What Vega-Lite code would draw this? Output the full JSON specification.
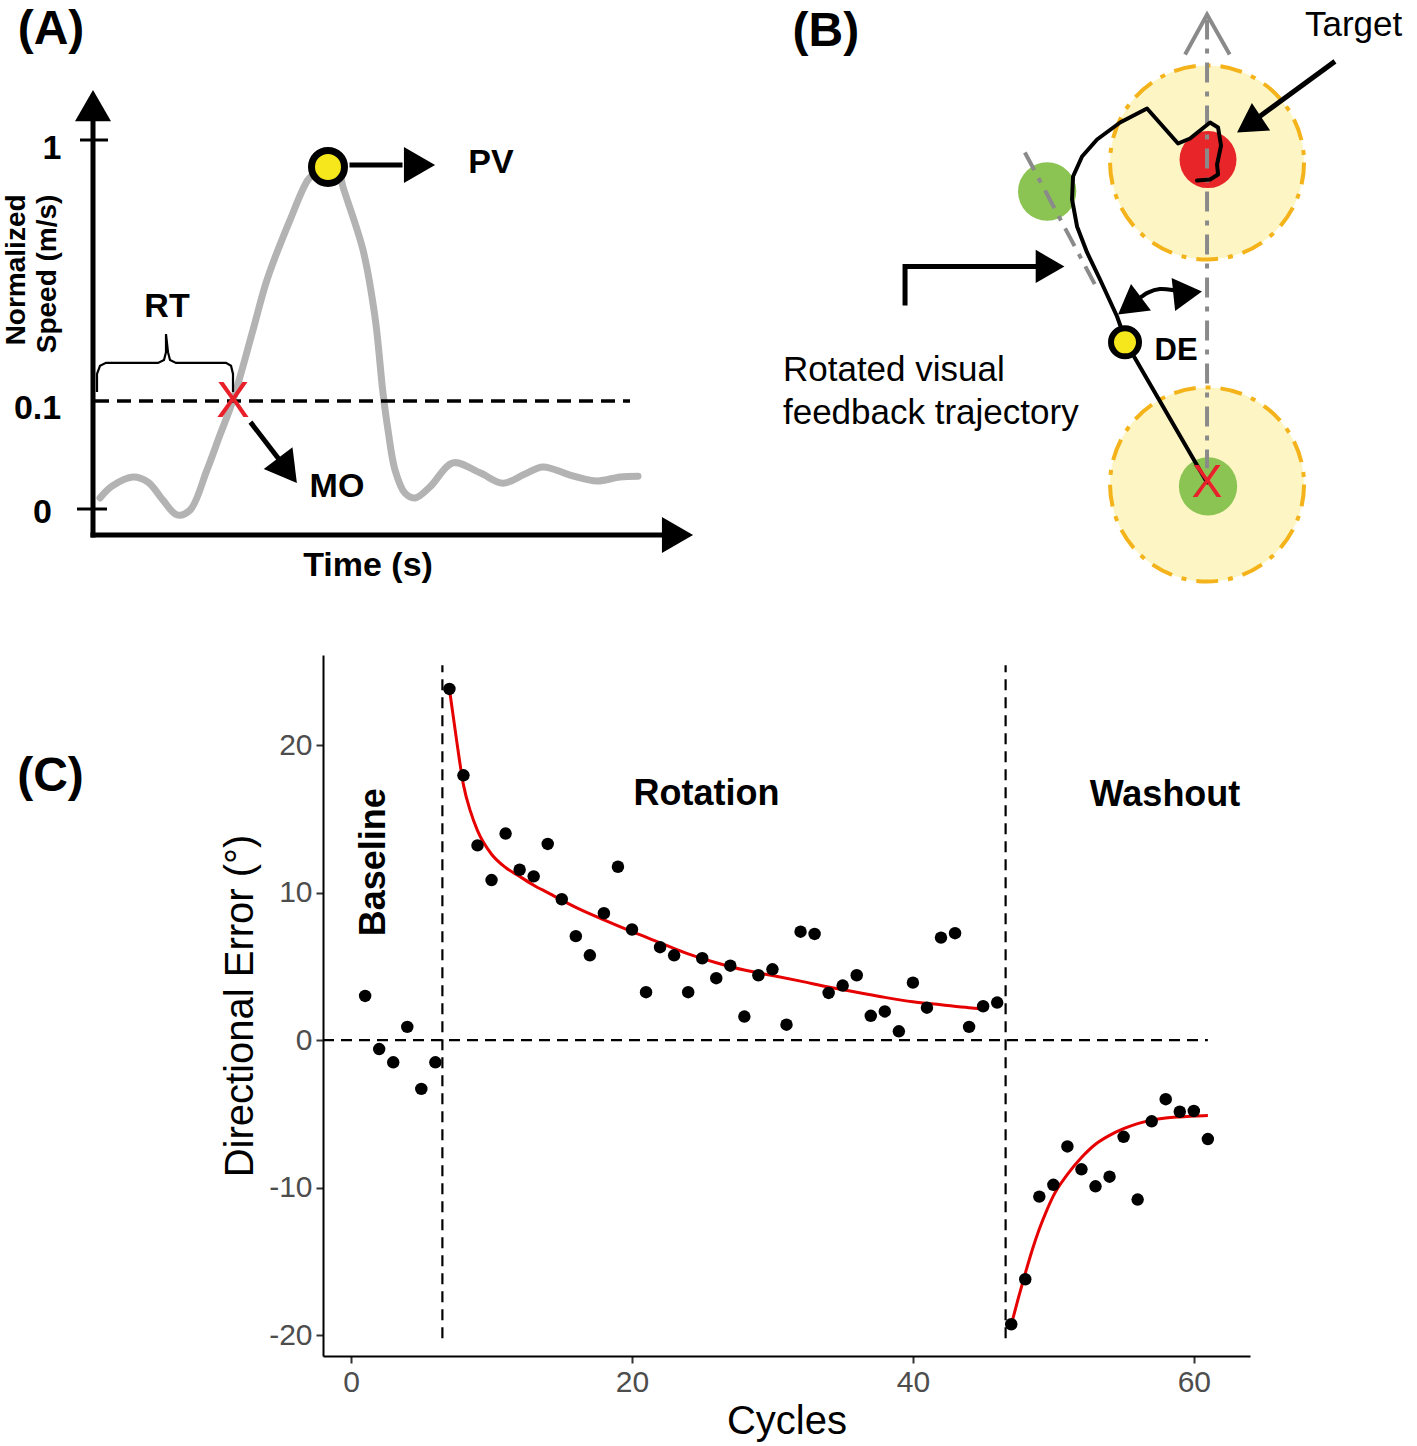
{
  "$schema": "https://vega.github.io/schema/vega-lite/v6.json",
  "width": 1417,
  "height": 1446,
  "autosize": {"type": "none"},
  "padding": 0,
  "background": "white",
  "config": {
    "view": {"stroke": null},
    "font": "Liberation Sans",
    "text": {"font": "Liberation Sans"},
    "axis": {"grid": false}
  },
  "datasets": {
    "a_curve": [
      {"i": 0, "time": 0.010, "speed": 0.030},
      {"i": 1, "time": 0.034, "speed": 0.062},
      {"i": 2, "time": 0.076, "speed": 0.087},
      {"i": 3, "time": 0.106, "speed": 0.073},
      {"i": 4, "time": 0.136, "speed": 0.024},
      {"i": 5, "time": 0.164, "speed": -0.016},
      {"i": 6, "time": 0.190, "speed": -0.003},
      {"i": 7, "time": 0.224, "speed": 0.106},
      {"i": 8, "time": 0.250, "speed": 0.201},
      {"i": 9, "time": 0.276, "speed": 0.295},
      {"i": 10, "time": 0.316, "speed": 0.485},
      {"i": 11, "time": 0.344, "speed": 0.621},
      {"i": 12, "time": 0.390, "speed": 0.783},
      {"i": 13, "time": 0.426, "speed": 0.892},
      {"i": 14, "time": 0.442, "speed": 0.913},
      {"i": 15, "time": 0.466, "speed": 0.946},
      {"i": 16, "time": 0.488, "speed": 0.913},
      {"i": 17, "time": 0.496, "speed": 0.873},
      {"i": 18, "time": 0.536, "speed": 0.702},
      {"i": 19, "time": 0.560, "speed": 0.520},
      {"i": 20, "time": 0.576, "speed": 0.314},
      {"i": 21, "time": 0.586, "speed": 0.214},
      {"i": 22, "time": 0.600, "speed": 0.106},
      {"i": 23, "time": 0.620, "speed": 0.043},
      {"i": 24, "time": 0.640, "speed": 0.030},
      {"i": 25, "time": 0.670, "speed": 0.060},
      {"i": 26, "time": 0.716, "speed": 0.125},
      {"i": 27, "time": 0.770, "speed": 0.098},
      {"i": 28, "time": 0.816, "speed": 0.070},
      {"i": 29, "time": 0.860, "speed": 0.095},
      {"i": 30, "time": 0.896, "speed": 0.114},
      {"i": 31, "time": 0.950, "speed": 0.092},
      {"i": 32, "time": 1.004, "speed": 0.076},
      {"i": 33, "time": 1.050, "speed": 0.087},
      {"i": 34, "time": 1.086, "speed": 0.089}
    ],
    "a_threshold": [{"time": 0, "speed": 0.293, "time2": 1.07, "speed2": 0.293}],
    "a_axes": [
      {"time": -0.004, "speed": -0.0705, "time2": -0.004, "speed2": 1.054},
      {"time": -0.004, "speed": -0.0705, "time2": 1.134, "speed2": -0.0705},
      {"time": 0.514, "speed": 0.932, "time2": 0.61, "speed2": 0.932},
      {"time": 0.314, "speed": 0.230, "time2": 0.368, "speed2": 0.135}
    ],
    "a_ticks": [
      {"time": -0.03, "speed": 1, "time2": 0.026, "speed2": 1},
      {"time": -0.036, "speed": 0, "time2": 0.024, "speed2": 0}
    ],
    "a_brace": [
      {"i": 0, "time": 0.004, "speed": 0.317},
      {"i": 1, "time": 0.004, "speed": 0.366},
      {"i": 2, "time": 0.010, "speed": 0.388},
      {"i": 3, "time": 0.022, "speed": 0.396},
      {"i": 4, "time": 0.126, "speed": 0.396},
      {"i": 5, "time": 0.138, "speed": 0.404},
      {"i": 6, "time": 0.142, "speed": 0.425},
      {"i": 7, "time": 0.142, "speed": 0.474},
      {"i": 8, "time": 0.146, "speed": 0.425},
      {"i": 9, "time": 0.150, "speed": 0.404},
      {"i": 10, "time": 0.162, "speed": 0.396},
      {"i": 11, "time": 0.262, "speed": 0.396},
      {"i": 12, "time": 0.272, "speed": 0.388},
      {"i": 13, "time": 0.276, "speed": 0.366},
      {"i": 14, "time": 0.276, "speed": 0.317}
    ],
    "a_heads": [
      {"time": -0.004, "speed": 1.093, "dir": 0},
      {"time": 1.165, "speed": -0.0705, "dir": 90},
      {"time": 0.649, "speed": 0.932, "dir": 90},
      {"time": 0.385, "speed": 0.104, "dir": 143}
    ],
    "a_pv": [{"time": 0.466, "speed": 0.927}],
    "a_x": [{"time": 0.276, "speed": 0.290, "label": "X"}],
    "a_text": [
      {"time": -0.086, "speed": 0.976, "label": "1"},
      {"time": -0.115, "speed": 0.271, "label": "0.1"},
      {"time": -0.105, "speed": -0.011, "label": "0"},
      {"time": 0.144, "speed": 0.547, "label": "RT"},
      {"time": 0.792, "speed": 0.938, "label": "PV"},
      {"time": 0.484, "speed": 0.060, "label": "MO"},
      {"time": 0.546, "speed": -0.154, "label": "Time (s)"}
    ],
    "a_ytitle": [
      {"time": -0.156, "speed": 0.648, "label": "Normalized"},
      {"time": -0.094, "speed": 0.637, "label": "Speed (m/s)"}
    ],
    "a_panel": [{"time": -0.088, "speed": 1.298, "label": "(A)"}],
    "b_circles": [{"xcm": 0, "ycm": 0}, {"xcm": 0, "ycm": 9.97}],
    "b_red": [{"xcm": 0.03, "ycm": 10.06}],
    "b_green": [{"xcm": 0.03, "ycm": -0.06}, {"xcm": -4.95, "ycm": 9.07}],
    "b_grey": [
      {"xcm": 0, "ycm": 14.4, "xcm2": 0, "ycm2": 0.5},
      {"xcm": -5.64, "ycm": 10.28, "xcm2": -3.47, "ycm2": 6.19}
    ],
    "b_chevron": [
      {"i": 0, "xcm": -0.68, "ycm": 13.31},
      {"i": 1, "xcm": 0, "ycm": 14.55},
      {"i": 2, "xcm": 0.70, "ycm": 13.31}
    ],
    "b_traj": [
      {"i": 0, "xcm": 0, "ycm": 0.06},
      {"i": 1, "xcm": -2.477, "ycm": 4.334},
      {"i": 2, "xcm": -2.786, "ycm": 5.201},
      {"i": 3, "xcm": -3.313, "ycm": 6.347},
      {"i": 4, "xcm": -3.715, "ycm": 7.183},
      {"i": 5, "xcm": -4.025, "ycm": 7.988},
      {"i": 6, "xcm": -4.180, "ycm": 8.824},
      {"i": 7, "xcm": -4.149, "ycm": 9.536},
      {"i": 8, "xcm": -3.870, "ycm": 10.155},
      {"i": 9, "xcm": -3.406, "ycm": 10.681},
      {"i": 10, "xcm": -2.693, "ycm": 11.207},
      {"i": 11, "xcm": -1.858, "ycm": 11.641},
      {"i": 12, "xcm": -0.898, "ycm": 10.557},
      {"i": 13, "xcm": -0.526, "ycm": 10.712},
      {"i": 14, "xcm": 0.093, "ycm": 11.207},
      {"i": 15, "xcm": 0.341, "ycm": 11.053},
      {"i": 16, "xcm": 0.433, "ycm": 10.495},
      {"i": 17, "xcm": 0.310, "ycm": 9.907},
      {"i": 18, "xcm": 0.341, "ycm": 9.598},
      {"i": 19, "xcm": 0.093, "ycm": 9.443},
      {"i": 20, "xcm": -0.310, "ycm": 9.412}
    ],
    "b_arc": [
      {"i": 0, "xcm": -2.14, "ycm": 5.73},
      {"i": 1, "xcm": -1.83, "ycm": 5.94},
      {"i": 2, "xcm": -1.46, "ycm": 6.05},
      {"i": 3, "xcm": -1.02, "ycm": 6.01},
      {"i": 4, "xcm": -0.75, "ycm": 5.95}
    ],
    "b_stems": [
      {"arrow": "elbow", "i": 0, "xcm": -9.35, "ycm": 5.54},
      {"arrow": "elbow", "i": 1, "xcm": -9.35, "ycm": 6.75},
      {"arrow": "elbow", "i": 2, "xcm": -5.26, "ycm": 6.75},
      {"arrow": "target", "i": 0, "xcm": 3.96, "ycm": 13.10},
      {"arrow": "target", "i": 1, "xcm": 1.50, "ycm": 11.30}
    ],
    "b_heads": [
      {"xcm": 1.30, "ycm": 11.14, "dir": 236.5},
      {"xcm": -4.86, "ycm": 6.75, "dir": 90},
      {"xcm": -2.40, "ycm": 5.53, "dir": 233},
      {"xcm": -0.60, "ycm": 5.93, "dir": 84}
    ],
    "b_yellow": [{"xcm": -2.54, "ycm": 4.40}],
    "b_x": [{"xcm": 0, "ycm": 0.03, "label": "X"}],
    "b_de": [{"xcm": -0.96, "ycm": 4.12, "label": "DE"}],
    "b_text": [
      {"xcm": 3.03, "ycm": 14.24, "label": "Target"},
      {"xcm": -13.13, "ycm": 3.53, "label": "Rotated visual"},
      {"xcm": -13.13, "ycm": 2.20, "label": "feedback trajectory"}
    ],
    "b_panel": [{"xcm": -11.80, "ycm": 14.0, "label": "(B)"}],
    "c_rules": [
      {"cycle": 6.5, "error": -20.2, "cycle2": 6.5, "error2": 25.4},
      {"cycle": 46.6, "error": -20.2, "cycle2": 46.6, "error2": 25.4},
      {"cycle": -2, "error": 0, "cycle2": 61, "error2": 0}
    ],
    "c_fit": [
      {"phase": "Rotation", "cycle": 7, "error": 23.8},
      {"phase": "Rotation", "cycle": 7.5, "error": 20.4},
      {"phase": "Rotation", "cycle": 8, "error": 17.3},
      {"phase": "Rotation", "cycle": 8.5, "error": 15.5},
      {"phase": "Rotation", "cycle": 9, "error": 14.2},
      {"phase": "Rotation", "cycle": 10, "error": 12.6},
      {"phase": "Rotation", "cycle": 11, "error": 11.7},
      {"phase": "Rotation", "cycle": 12, "error": 11.1},
      {"phase": "Rotation", "cycle": 13, "error": 10.5},
      {"phase": "Rotation", "cycle": 14, "error": 10.0},
      {"phase": "Rotation", "cycle": 16, "error": 9.0},
      {"phase": "Rotation", "cycle": 18, "error": 8.15},
      {"phase": "Rotation", "cycle": 20, "error": 7.35},
      {"phase": "Rotation", "cycle": 22, "error": 6.6},
      {"phase": "Rotation", "cycle": 24, "error": 5.85},
      {"phase": "Rotation", "cycle": 26, "error": 5.25},
      {"phase": "Rotation", "cycle": 28, "error": 4.75},
      {"phase": "Rotation", "cycle": 30, "error": 4.38},
      {"phase": "Rotation", "cycle": 32, "error": 4.0},
      {"phase": "Rotation", "cycle": 34, "error": 3.6},
      {"phase": "Rotation", "cycle": 36, "error": 3.25},
      {"phase": "Rotation", "cycle": 38, "error": 2.9},
      {"phase": "Rotation", "cycle": 40, "error": 2.6},
      {"phase": "Rotation", "cycle": 42, "error": 2.4},
      {"phase": "Rotation", "cycle": 44, "error": 2.2},
      {"phase": "Rotation", "cycle": 45, "error": 2.12},
      {"phase": "Washout", "cycle": 47, "error": -19.3},
      {"phase": "Washout", "cycle": 47.5, "error": -17.5},
      {"phase": "Washout", "cycle": 48, "error": -15.8},
      {"phase": "Washout", "cycle": 48.5, "error": -14.2},
      {"phase": "Washout", "cycle": 49, "error": -12.8},
      {"phase": "Washout", "cycle": 49.5, "error": -11.6},
      {"phase": "Washout", "cycle": 50, "error": -10.55},
      {"phase": "Washout", "cycle": 51, "error": -9.1},
      {"phase": "Washout", "cycle": 52, "error": -7.95},
      {"phase": "Washout", "cycle": 53, "error": -7.05},
      {"phase": "Washout", "cycle": 54, "error": -6.45},
      {"phase": "Washout", "cycle": 55, "error": -6.0},
      {"phase": "Washout", "cycle": 56, "error": -5.65},
      {"phase": "Washout", "cycle": 57, "error": -5.42},
      {"phase": "Washout", "cycle": 58, "error": -5.28},
      {"phase": "Washout", "cycle": 59, "error": -5.2},
      {"phase": "Washout", "cycle": 60, "error": -5.14},
      {"phase": "Washout", "cycle": 61, "error": -5.1}
    ],
    "c_points": [
      {"cycle": 1, "error": 3.0}, {"cycle": 2, "error": -0.6}, {"cycle": 3, "error": -1.5},
      {"cycle": 4, "error": 0.9}, {"cycle": 5, "error": -3.3}, {"cycle": 6, "error": -1.5},
      {"cycle": 7, "error": 23.8}, {"cycle": 8, "error": 17.95}, {"cycle": 9, "error": 13.2},
      {"cycle": 10, "error": 10.85}, {"cycle": 11, "error": 14.0}, {"cycle": 12, "error": 11.55},
      {"cycle": 13, "error": 11.1}, {"cycle": 14, "error": 13.3}, {"cycle": 15, "error": 9.55},
      {"cycle": 16, "error": 7.05}, {"cycle": 17, "error": 5.75}, {"cycle": 18, "error": 8.6},
      {"cycle": 19, "error": 11.75}, {"cycle": 20, "error": 7.5}, {"cycle": 21, "error": 3.25},
      {"cycle": 22, "error": 6.3}, {"cycle": 23, "error": 5.75}, {"cycle": 24, "error": 3.25},
      {"cycle": 25, "error": 5.55}, {"cycle": 26, "error": 4.2}, {"cycle": 27, "error": 5.05},
      {"cycle": 28, "error": 1.6}, {"cycle": 29, "error": 4.4}, {"cycle": 30, "error": 4.8},
      {"cycle": 31, "error": 1.05}, {"cycle": 32, "error": 7.35}, {"cycle": 33, "error": 7.2},
      {"cycle": 34, "error": 3.2}, {"cycle": 35, "error": 3.7}, {"cycle": 36, "error": 4.4},
      {"cycle": 37, "error": 1.65}, {"cycle": 38, "error": 1.95}, {"cycle": 39, "error": 0.6},
      {"cycle": 40, "error": 3.9}, {"cycle": 41, "error": 2.2}, {"cycle": 42, "error": 6.95},
      {"cycle": 43, "error": 7.25}, {"cycle": 44, "error": 0.9}, {"cycle": 45, "error": 2.3},
      {"cycle": 46, "error": 2.55}, {"cycle": 47, "error": -19.25}, {"cycle": 48, "error": -16.2},
      {"cycle": 49, "error": -10.6}, {"cycle": 50, "error": -9.8}, {"cycle": 51, "error": -7.2},
      {"cycle": 52, "error": -8.75}, {"cycle": 53, "error": -9.9}, {"cycle": 54, "error": -9.25},
      {"cycle": 55, "error": -6.55}, {"cycle": 56, "error": -10.8}, {"cycle": 57, "error": -5.5},
      {"cycle": 58, "error": -4.0}, {"cycle": 59, "error": -4.85}, {"cycle": 60, "error": -4.8},
      {"cycle": 61, "error": -6.7}
    ],
    "c_phase": [
      {"cycle": 25.3, "error": 16.7, "label": "Rotation"},
      {"cycle": 57.95, "error": 16.6, "label": "Washout"}
    ],
    "c_baseline": [{"cycle": 1.66, "error": 12.06, "label": "Baseline"}],
    "c_panel": [{"cycle": -21.4, "error": 17.8, "label": "(C)"}]
  },
  "resolve": {"scale": {"x": "independent", "y": "independent"}},
  "layer": [
    {
      "encoding": {
        "x": {"field": "time", "type": "quantitative", "scale": {"domain": [0, 1.2], "range": [95, 695], "zero": false, "nice": false}, "axis": null},
        "y": {"field": "speed", "type": "quantitative", "scale": {"domain": [0, 1], "range": [509, 140], "zero": false, "nice": false}, "axis": null}
      },
      "layer": [
        {"data": {"name": "a_curve"}, "mark": {"type": "line", "color": "#b3b3b3", "strokeWidth": 7, "strokeCap": "round", "strokeJoin": "round", "interpolate": "catmull-rom"}, "encoding": {"order": {"field": "i", "type": "quantitative"}}},
        {"data": {"name": "a_threshold"}, "mark": {"type": "rule", "color": "black", "strokeWidth": 3.5, "strokeDash": [14, 8]}, "encoding": {"x2": {"field": "time2"}, "y2": {"field": "speed2"}}},
        {"data": {"name": "a_axes"}, "mark": {"type": "rule", "color": "black", "strokeWidth": 5, "strokeCap": "square"}, "encoding": {"x2": {"field": "time2"}, "y2": {"field": "speed2"}}},
        {"data": {"name": "a_ticks"}, "mark": {"type": "rule", "color": "black", "strokeWidth": 3}, "encoding": {"x2": {"field": "time2"}, "y2": {"field": "speed2"}}},
        {"data": {"name": "a_brace"}, "mark": {"type": "line", "color": "black", "strokeWidth": 2.2}, "encoding": {"order": {"field": "i", "type": "quantitative"}}},
        {"data": {"name": "a_heads"}, "mark": {"type": "point", "shape": "triangle-up", "filled": true, "color": "black", "opacity": 1, "size": 1296}, "encoding": {"angle": {"field": "dir", "type": "quantitative", "scale": null}}},
        {"data": {"name": "a_pv"}, "mark": {"type": "point", "shape": "circle", "filled": false, "fill": "#f6e71c", "fillOpacity": 1, "stroke": "black", "strokeWidth": 7, "opacity": 1, "size": 1089}},
        {"data": {"name": "a_x"}, "mark": {"type": "text", "color": "#e8202a", "fontSize": 50}, "encoding": {"text": {"field": "label"}}},
        {"data": {"name": "a_text"}, "mark": {"type": "text", "color": "black", "fontSize": 34, "fontWeight": "bold"}, "encoding": {"text": {"field": "label"}}},
        {"data": {"name": "a_ytitle"}, "mark": {"type": "text", "color": "black", "fontSize": 28, "fontWeight": "bold", "angle": 270}, "encoding": {"text": {"field": "label"}}},
        {"data": {"name": "a_panel"}, "mark": {"type": "text", "color": "black", "fontSize": 48, "fontWeight": "bold"}, "encoding": {"text": {"field": "label"}}}
      ]
    },
    {
      "encoding": {
        "x": {"field": "xcm", "type": "quantitative", "scale": {"domain": [-13.5, 6.5], "range": [771, 1417], "zero": false, "nice": false}, "axis": null},
        "y": {"field": "ycm", "type": "quantitative", "scale": {"domain": [-3.5, 15], "range": [597.5, 0], "zero": false, "nice": false}, "axis": null}
      },
      "layer": [
        {"data": {"name": "b_circles"}, "mark": {"type": "point", "shape": "circle", "fill": "#fdf6c4", "fillOpacity": 1, "stroke": "#f4b31a", "strokeWidth": 4, "strokeDash": [22, 10, 5, 10], "opacity": 1, "size": 37636}},
        {"data": {"name": "b_red"}, "mark": {"type": "point", "shape": "circle", "filled": true, "color": "#e8262a", "opacity": 1, "size": 3249}},
        {"data": {"name": "b_green"}, "mark": {"type": "point", "shape": "circle", "filled": true, "color": "#8cc453", "opacity": 1, "size": 3400}},
        {"data": {"name": "b_grey"}, "mark": {"type": "rule", "color": "#8a8a8a", "strokeWidth": 4, "strokeDash": [20, 9, 5, 9]}, "encoding": {"x2": {"field": "xcm2"}, "y2": {"field": "ycm2"}}},
        {"data": {"name": "b_chevron"}, "mark": {"type": "line", "color": "#8a8a8a", "strokeWidth": 4}, "encoding": {"order": {"field": "i", "type": "quantitative"}}},
        {"data": {"name": "b_traj"}, "mark": {"type": "line", "color": "black", "strokeWidth": 4, "strokeJoin": "round", "strokeCap": "round"}, "encoding": {"order": {"field": "i", "type": "quantitative"}}},
        {"data": {"name": "b_arc"}, "mark": {"type": "line", "color": "black", "strokeWidth": 4, "interpolate": "catmull-rom"}, "encoding": {"order": {"field": "i", "type": "quantitative"}}},
        {"data": {"name": "b_stems"}, "mark": {"type": "line", "color": "black", "strokeWidth": 5}, "encoding": {"detail": {"field": "arrow"}, "order": {"field": "i", "type": "quantitative"}}},
        {"data": {"name": "b_heads"}, "mark": {"type": "point", "shape": "triangle-up", "filled": true, "color": "black", "opacity": 1, "size": 1100}, "encoding": {"angle": {"field": "dir", "type": "quantitative", "scale": null}}},
        {"data": {"name": "b_yellow"}, "mark": {"type": "point", "shape": "circle", "fill": "#f6e71c", "fillOpacity": 1, "stroke": "black", "strokeWidth": 6, "opacity": 1, "size": 784}},
        {"data": {"name": "b_x"}, "mark": {"type": "text", "color": "#e8202a", "fontSize": 46}, "encoding": {"text": {"field": "label"}}},
        {"data": {"name": "b_de"}, "mark": {"type": "text", "color": "black", "fontSize": 31, "fontWeight": "bold"}, "encoding": {"text": {"field": "label"}}},
        {"data": {"name": "b_text"}, "mark": {"type": "text", "color": "black", "fontSize": 35, "align": "left"}, "encoding": {"text": {"field": "label"}}},
        {"data": {"name": "b_panel"}, "mark": {"type": "text", "color": "black", "fontSize": 48, "fontWeight": "bold"}, "encoding": {"text": {"field": "label"}}}
      ]
    },
    {
      "encoding": {
        "x": {
          "field": "cycle", "type": "quantitative",
          "scale": {"domain": [-2, 64], "range": [323, 1250], "zero": false, "nice": false},
          "axis": {
            "title": "Cycles", "orient": "bottom", "offset": -90, "values": [0, 20, 40, 60],
            "labelFlush": false, "labelFontSize": 30, "labelColor": "#4d4d4d", "labelFont": "Liberation Sans", "labelPadding": 4,
            "domainColor": "black", "domainWidth": 2, "tickColor": "#333333", "tickWidth": 2, "tickSize": 7,
            "titleFontSize": 40, "titleFontWeight": "normal", "titleColor": "black", "titleFont": "Liberation Sans", "titlePadding": 4
          }
        },
        "y": {
          "field": "error", "type": "quantitative",
          "scale": {"domain": [-21.4, 26.1], "range": [1356, 655], "zero": false, "nice": false},
          "axis": {
            "title": "Directional Error (°)", "orient": "left", "offset": -323, "values": [-20, -10, 0, 10, 20],
            "labelExpr": "'' + datum.value",
            "labelFlush": false, "labelFontSize": 30, "labelColor": "#4d4d4d", "labelFont": "Liberation Sans", "labelPadding": 4,
            "domainColor": "black", "domainWidth": 2, "tickColor": "#333333", "tickWidth": 2, "tickSize": 7,
            "titleFontSize": 40, "titleFontWeight": "normal", "titleColor": "black", "titleFont": "Liberation Sans", "titlePadding": 8
          }
        }
      },
      "layer": [
        {"data": {"name": "c_rules"}, "mark": {"type": "rule", "color": "black", "strokeWidth": 2.2, "strokeDash": [11, 7]}, "encoding": {"x2": {"field": "cycle2"}, "y2": {"field": "error2"}}},
        {"data": {"name": "c_fit"}, "mark": {"type": "line", "color": "#e60000", "strokeWidth": 3, "interpolate": "monotone"}, "encoding": {"detail": {"field": "phase"}}},
        {"data": {"name": "c_points"}, "mark": {"type": "point", "shape": "circle", "filled": true, "color": "black", "opacity": 1, "size": 155}},
        {"data": {"name": "c_phase"}, "mark": {"type": "text", "color": "black", "fontSize": 36, "fontWeight": "bold"}, "encoding": {"text": {"field": "label"}}},
        {"data": {"name": "c_baseline"}, "mark": {"type": "text", "color": "black", "fontSize": 36, "fontWeight": "bold", "angle": 270}, "encoding": {"text": {"field": "label"}}},
        {"data": {"name": "c_panel"}, "mark": {"type": "text", "color": "black", "fontSize": 48, "fontWeight": "bold"}, "encoding": {"text": {"field": "label"}}}
      ]
    }
  ]
}
